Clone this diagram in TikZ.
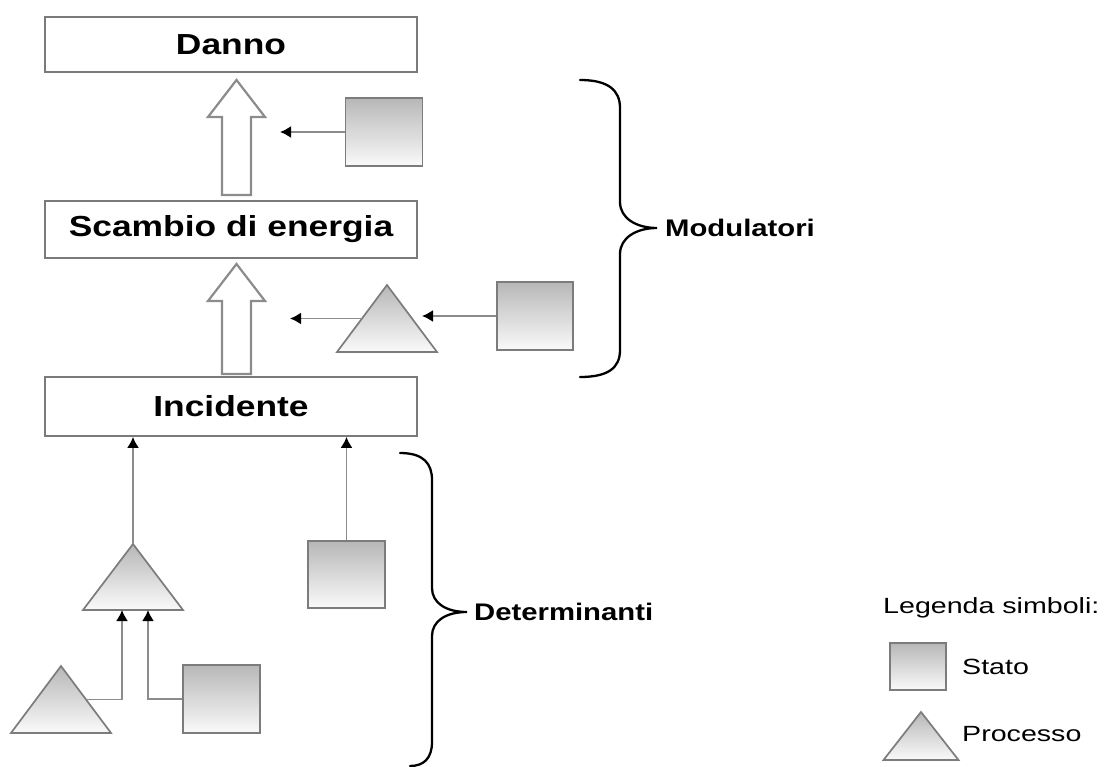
\documentclass[tikz,border=0pt]{standalone}
\usepackage{fontspec}
\setmainfont{Liberation Sans}
\newfontfamily\headfont{Liberation Sans}[FakeStretch=1.22]
\newfontfamily\legendfont{Liberation Sans}[FakeStretch=1.3]
\usetikzlibrary{arrows.meta,calc}

\definecolor{boxgray}{HTML}{7A7A7A}
\definecolor{edgegray}{HTML}{7C7C7C}
\definecolor{linegray}{HTML}{8C8C8C}
\definecolor{shadetop}{HTML}{B7B7B7}
\definecolor{shadebot}{HTML}{FAFAFA}

\tikzset{
  stagebox/.style={draw=boxgray, line width=1.8pt, fill=white, inner sep=0pt,
    minimum width=372pt, font=\headfont\bfseries\fontsize{29}{34}\selectfont},
  stato/.style={draw=edgegray, line width=1.7pt, top color=shadetop,
    bottom color=shadebot, inner sep=0pt, minimum width=77pt, minimum height=68pt},
  procstyle/.style={draw=edgegray, line width=1.7pt, top color=shadetop,
    bottom color=shadebot, line join=miter},
  conn/.style={draw=linegray, line width=1.8pt, -{Latex[length=11pt,width=12pt,color=black]}},
  hollow/.style={draw=linegray, line width=2.2pt, fill=white, line join=miter},
  bracestyle/.style={draw=black, line width=2.3pt, line cap=round},
  bracelabel/.style={anchor=west, inner sep=0pt, font=\headfont\bfseries\fontsize{24}{28}\selectfont},
  legendtext/.style={anchor=west, inner sep=0pt, font=\legendfont\fontsize{22}{26}\selectfont},
}

% triangle "Processo": name, apex x, apex y, half base, height
\newcommand\procshape[5]{%
  \coordinate (#1-top) at (#2,#3);
  \coordinate (#1-bl) at ({#2-#4},{#3+#5});
  \coordinate (#1-br) at ({#2+#4},{#3+#5});
  \shade[procstyle] (#1-top) -- (#1-br) -- (#1-bl) -- cycle;}

\begin{document}
\begin{tikzpicture}[x=1pt,y=-1pt]
\useasboundingbox (0,0) rectangle (1104,767);
\fill[white] (0,0) rectangle (1104,767);

% main chain
\node[stagebox, minimum height=55pt] (danno) at (231,44.5) {Danno};
\node[stagebox, minimum height=57pt] (scambio) at (231,229.5) {Scambio di energia};
\node[stagebox, minimum height=59pt] (incidente) at (231,406.5) {Incidente};

% hollow arrows between the stages
\draw[hollow] (222,195) -- (222,117) -- (208,117) -- (236.5,80)
  -- (265,117) -- (251,117) -- (251,195) -- cycle;
\draw[hollow] (222,374) -- (222,301) -- (208,301) -- (236.5,264)
  -- (265,301) -- (251,301) -- (251,374) -- cycle;

% modulators
\node[stato] (m1) at (384,132) {};
\coordinate (m1end) at (280,132);
\draw[conn] (m1.west) -- (m1end);

\procshape{mp}{387}{285}{50}{67}
\node[stato, minimum width=76pt] (m2) at (535,316) {};
\coordinate (mpin) at (422,316);
\draw[conn] (m2.west) -- (mpin);
\coordinate (mpout) at ($(mp-bl)!0.5!(mp-top)$);
\coordinate (m2end) at (290,318.5);
\draw[conn] (mpout) -- (m2end);

% determinants
\procshape{dA}{133}{544}{50}{66}
\procshape{dB}{61}{666}{50}{67}
\node[stato] (dC) at (221.5,699) {};
\node[stato, minimum height=67pt] (dD) at (346.5,574.5) {};

\draw[conn] (dA-top) -- (dA-top |- incidente.south);
\draw[conn] (dD.north) -- (dD.north |- incidente.south);
\coordinate (dBout) at ($(dB-top)!0.5!(dB-br)$);
\draw[conn] (dBout) -| ($(dA-bl)+(39,0)$);
\draw[conn] (dC.west) -| ($(dA-bl)+(65,0)$);

% braces
\draw[bracestyle] (580,80) .. controls (608,80) and (620,90) .. (620,108)
  -- (620,202) .. controls (620,218) and (636,228) .. (657,228)
  .. controls (636,228) and (620,238) .. (620,254)
  -- (620,350) .. controls (620,368) and (608,377) .. (580,377);
\node[bracelabel] (modulatori) at (665,228) {Modulatori};

\draw[bracestyle] (400,453) .. controls (424,453) and (432,464) .. (432,480)
  -- (432,588) .. controls (432,603) and (446,612) .. (467,612)
  .. controls (446,612) and (432,621) .. (432,636)
  -- (432,742) .. controls (432,758) and (424,766) .. (410,766);
\node[bracelabel] (determinanti) at (474,612) {Determinanti};

% legend
\node[legendtext] (legenda) at (883,608) {Legenda simboli:};
\node[stato, minimum width=56pt, minimum height=47pt] (lstato) at (918,666.5) {};
\node[legendtext] (statotext) at (962,667) {Stato};
\procshape{lp}{921}{712}{37.5}{48}
\node[legendtext] (processotext) at (962,734) {Processo};
\end{tikzpicture}
\end{document}
